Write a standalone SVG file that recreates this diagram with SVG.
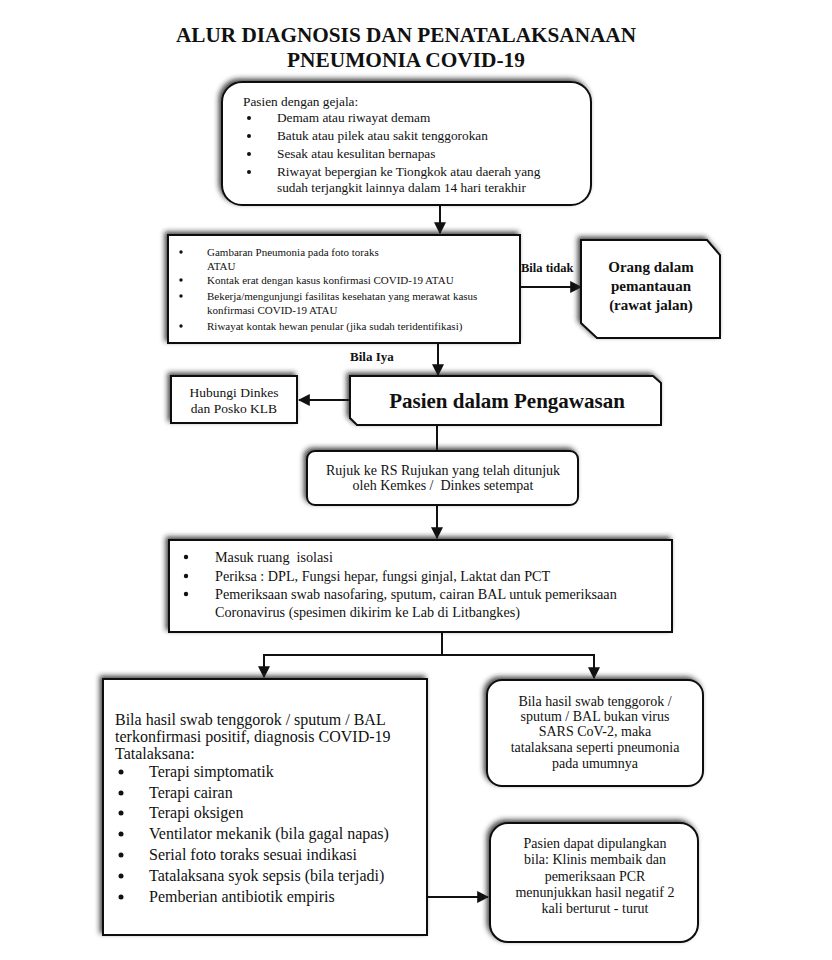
<svg xmlns="http://www.w3.org/2000/svg" width="832" height="960" viewBox="0 0 832 960" font-family="'Liberation Serif', 'DejaVu Serif', serif">
<style>
text{font-family:'Liberation Serif','DejaVu Serif',serif;fill:#111}
.box{fill:#fff;stroke:#111;stroke-width:2}
.ln{fill:none;stroke:#111;stroke-width:2}
.b{font-weight:bold}
.c{text-anchor:middle}
.dot{fill:#111}
</style>
<defs>
<filter id="sh" x="-10%" y="-20%" width="120%" height="140%">
<feDropShadow dx="-2.5" dy="-2.5" stdDeviation="2.8" flood-color="#222" flood-opacity="0.8"/>
</filter>
<marker id="ar" viewBox="0 0 10 10" refX="9" refY="5" markerWidth="6" markerHeight="6" orient="auto" markerUnits="strokeWidth">
<path d="M0,0 L10,5 L0,10 z" fill="#111"/>
</marker>
</defs>
<rect width="832" height="960" fill="#fff"/>
<g id="title">
<text class="b c" x="406" y="42" font-size="22" textLength="460" lengthAdjust="spacingAndGlyphs">ALUR DIAGNOSIS DAN PENATALAKSANAAN</text>
<text class="b c" x="406" y="67" font-size="22" textLength="238" lengthAdjust="spacingAndGlyphs">PNEUMONIA COVID-19</text>
</g>
<g id="connectors">
<line class="ln" x1="440" y1="205" x2="440" y2="233" marker-end="url(#ar)"/>
<line class="ln" x1="520" y1="287" x2="581" y2="287" marker-end="url(#ar)"/>
<line class="ln" x1="438" y1="343" x2="438" y2="375" marker-end="url(#ar)"/>
<line class="ln" x1="350" y1="400" x2="299" y2="400" marker-end="url(#ar)"/>
<line class="ln" x1="437" y1="425" x2="437" y2="450"/>
<line class="ln" x1="437" y1="505" x2="437" y2="538" marker-end="url(#ar)"/>
<polyline class="ln" points="442,632 442,655 264,655 264,677" marker-end="url(#ar)"/>
<polyline class="ln" points="442,655 594,655 594,678" marker-end="url(#ar)"/>
<line class="ln" x1="427" y1="897" x2="488" y2="897" marker-end="url(#ar)"/>
<text class="b" x="521" y="272" font-size="12.5">Bila tidak</text>
<text class="b" x="350" y="361" font-size="13">Bila Iya</text>
</g>
<g id="n1">
<rect class="box" x="222" y="82" width="369" height="123" rx="20" filter="url(#sh)"/>
<g font-size="13.3">
<text x="243" y="106">Pasien dengan gejala:</text>
<circle class="dot" cx="249" cy="118" r="2"/><text x="277" y="122">Demam atau riwayat demam</text>
<circle class="dot" cx="249" cy="136" r="2"/><text x="277" y="140">Batuk atau pilek atau sakit tenggorokan</text>
<circle class="dot" cx="249" cy="154" r="2"/><text x="277" y="158">Sesak atau kesulitan bernapas</text>
<circle class="dot" cx="249" cy="172" r="2"/><text x="277" y="176">Riwayat bepergian ke Tiongkok atau daerah yang</text>
<text x="277" y="192">sudah terjangkit lainnya dalam 14 hari terakhir</text>
</g>
</g>
<g id="n2">
<rect class="box" x="168" y="235" width="352" height="108" filter="url(#sh)"/>
<g font-size="11">
<circle class="dot" cx="181" cy="252" r="1.7"/><text x="207" y="256">Gambaran Pneumonia pada foto toraks</text>
<text x="207" y="270">ATAU</text>
<circle class="dot" cx="181" cy="280" r="1.7"/><text x="207" y="284">Kontak erat dengan kasus konfirmasi COVID-19 ATAU</text>
<circle class="dot" cx="181" cy="296" r="1.7"/><text x="207" y="300">Bekerja/mengunjungi fasilitas kesehatan yang merawat kasus</text>
<text x="207" y="314">konfirmasi COVID-19 ATAU</text>
<circle class="dot" cx="181" cy="326" r="1.7"/><text x="207" y="330">Riwayat kontak hewan penular (jika sudah teridentifikasi)</text>
</g>
</g>
<g id="n3">
<path class="box" d="M581,240 L707,240 L720,255 L720,338 L597,338 L581,323 Z" filter="url(#sh)"/>
<text class="b c" x="651" y="272" font-size="15">Orang dalam</text>
<text class="b c" x="651" y="291" font-size="15">pemantauan</text>
<text class="b c" x="651" y="310" font-size="15">(rawat jalan)</text>
</g>
<g id="n4">
<path class="box" d="M350,376 L653,376 L661,383 L661,425 L357,425 L350,418 Z" filter="url(#sh)"/>
<text class="b c" x="507" y="408" font-size="21">Pasien dalam Pengawasan</text>
</g>
<g id="n5">
<rect class="box" x="171" y="376" width="126" height="47" filter="url(#sh)"/>
<text class="c" x="234" y="397" font-size="13.5">Hubungi Dinkes</text>
<text class="c" x="234" y="413" font-size="13.5">dan Posko KLB</text>
</g>
<g id="n6">
<rect class="box" x="307" y="451" width="271" height="54" rx="8" filter="url(#sh)"/>
<text class="c" x="443" y="475" font-size="14">Rujuk ke RS Rujukan yang telah ditunjuk</text>
<text class="c" x="443" y="490" font-size="14" xml:space="preserve">oleh Kemkes /  Dinkes setempat</text>
</g>
<g id="n7">
<rect class="box" x="169" y="540" width="503" height="92" filter="url(#sh)"/>
<g font-size="14.2">
<circle class="dot" cx="186" cy="557" r="2.2"/><text x="215" y="562" xml:space="preserve">Masuk ruang  isolasi</text>
<circle class="dot" cx="186" cy="576" r="2.2"/><text x="215" y="581">Periksa : DPL, Fungsi hepar, fungsi ginjal, Laktat dan PCT</text>
<circle class="dot" cx="186" cy="594" r="2.2"/><text x="215" y="599">Pemeriksaan swab nasofaring, sputum, cairan BAL untuk pemeriksaan</text>
<text x="215" y="617">Coronavirus (spesimen dikirim ke Lab di Litbangkes)</text>
</g>
</g>
<g id="n8">
<rect class="box" x="103" y="679" width="324" height="256" filter="url(#sh)"/>
<g font-size="16">
<text x="115" y="725">Bila hasil swab tenggorok / sputum / BAL</text>
<text x="115" y="742">terkonfirmasi positif, diagnosis COVID-19</text>
<text x="115" y="759">Tatalaksana:</text>
<circle class="dot" cx="121" cy="772" r="2.5"/><text x="149" y="777">Terapi simptomatik</text>
<circle class="dot" cx="121" cy="793" r="2.5"/><text x="149" y="798">Terapi cairan</text>
<circle class="dot" cx="121" cy="813" r="2.5"/><text x="149" y="818">Terapi oksigen</text>
<circle class="dot" cx="121" cy="834" r="2.5"/><text x="149" y="839">Ventilator mekanik (bila gagal napas)</text>
<circle class="dot" cx="121" cy="855" r="2.5"/><text x="149" y="860">Serial foto toraks sesuai indikasi</text>
<circle class="dot" cx="121" cy="876" r="2.5"/><text x="149" y="881">Tatalaksana syok sepsis (bila terjadi)</text>
<circle class="dot" cx="121" cy="897" r="2.5"/><text x="149" y="902">Pemberian antibiotik empiris</text>
</g>
</g>
<g id="n9">
<rect class="box" x="487" y="680" width="216" height="106" rx="15" filter="url(#sh)"/>
<g font-size="14">
<text class="c" x="595" y="706">Bila hasil swab tenggorok /</text>
<text class="c" x="595" y="721">sputum / BAL bukan virus</text>
<text class="c" x="595" y="736">SARS CoV-2, maka</text>
<text class="c" x="595" y="752">tatalaksana seperti pneumonia</text>
<text class="c" x="595" y="768">pada umumnya</text>
</g>
</g>
<g id="n10">
<rect class="box" x="490" y="823" width="208" height="119" rx="18" filter="url(#sh)"/>
<g font-size="14">
<text class="c" x="595" y="848">Pasien dapat dipulangkan</text>
<text class="c" x="595" y="864">bila: Klinis membaik dan</text>
<text class="c" x="595" y="881">pemeriksaan PCR</text>
<text class="c" x="595" y="897">menunjukkan hasil negatif 2</text>
<text class="c" x="595" y="913">kali berturut - turut</text>
</g>
</g>
</svg>
